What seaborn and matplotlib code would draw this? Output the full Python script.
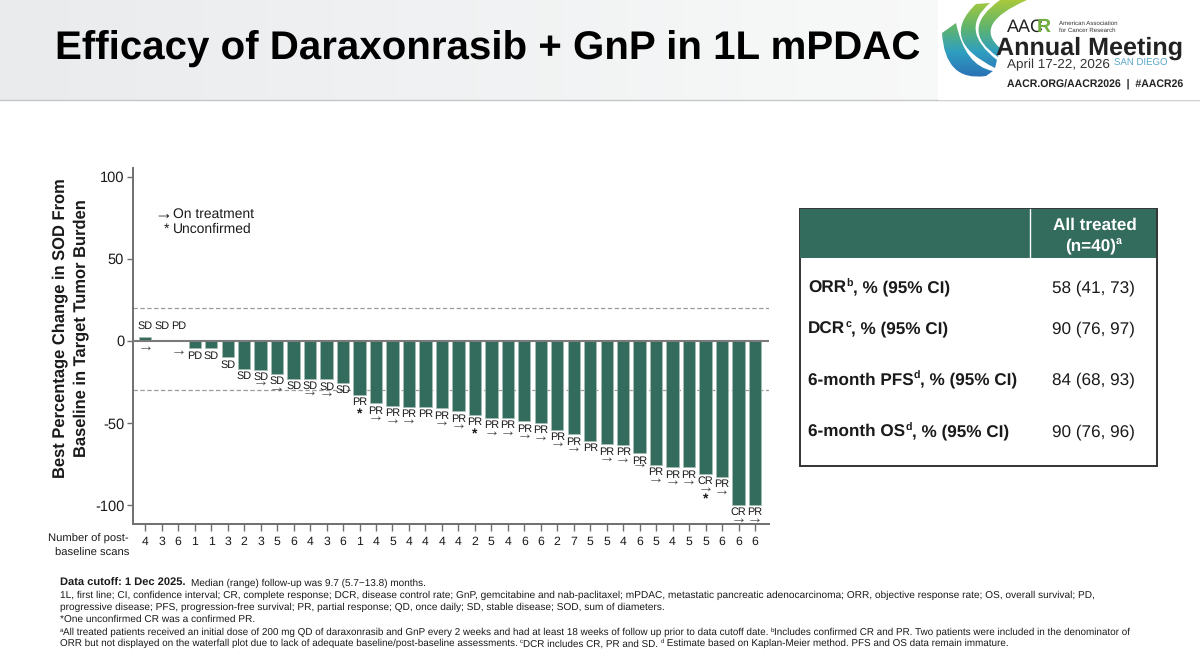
import numpy as np
import pandas as pd
import matplotlib
matplotlib.use('Agg')
import matplotlib.pyplot as plt
import seaborn as sns
from matplotlib.patches import Rectangle, PathPatch
from matplotlib.path import Path
from matplotlib.colors import LinearSegmentedColormap

change = [2.6, 0, 0, -4.5, -4.5, -10, -17, -17.5, -20, -23, -23, -23.5, -25.5,
          -33, -38, -39.5, -40, -40, -41, -43, -45, -47, -47, -49, -50, -54, -57,
          -61, -63, -63.5, -68.5, -75.5, -77, -77, -81, -83, -100, -100]
response = ['SD', 'SD', 'PD', 'PD', 'SD', 'SD', 'SD', 'SD', 'SD', 'SD', 'SD', 'SD', 'SD',
            'PR', 'PR', 'PR', 'PR', 'PR', 'PR', 'PR', 'PR', 'PR', 'PR', 'PR', 'PR', 'PR', 'PR',
            'PR', 'PR', 'PR', 'PR', 'PR', 'PR', 'PR', 'CR', 'PR', 'CR', 'PR']
scans = [4, 3, 6, 1, 1, 3, 2, 3, 5, 6, 4, 3, 6, 1, 4, 5, 4, 4, 4, 4, 2, 5, 4, 6, 6, 2, 7,
         5, 5, 4, 6, 5, 4, 5, 5, 6, 6, 6]
on_treatment = [1, 0, 1, 0, 0, 0, 0, 1, 1, 0, 1, 1, 0,
                0, 1, 1, 1, 0, 1, 1, 0, 1, 1, 1, 1, 1, 1,
                0, 1, 1, 1, 1, 1, 1, 1, 1, 1, 1]
unconfirmed = [13, 20, 34]

table_rows = ['ORR', 'DCR', '6-month PFS', '6-month OS']
table_sup = ['b', 'c', 'd', 'd']
table_vals = ['58 (41, 73)', '90 (76, 97)', '84 (68, 93)', '90 (76, 96)']

GREEN = '#336b5c'
DARK = '#1a1a1a'
GREY = '#6f6f6f'

sns.set_theme(style='white')
plt.rcParams['font.family'] = ['Liberation Sans', 'DejaVu Sans']
plt.rcParams['text.hinting'] = 'none'

W, H = 1200, 664
fig = plt.figure(figsize=(W / 100, H / 100), dpi=100, facecolor='white')

# page layer in pixel coordinates
bg = fig.add_axes([0, 0, 1, 1], zorder=0)
bg.axis('off')

grad = np.linspace(0, 1, 256).reshape(1, -1)
grey_cmap = LinearSegmentedColormap.from_list('hdr', ['#e9ebed', '#eff1f2', '#f6f7f7', '#fbfbfb'])
bg.imshow(grad, extent=(0, W, 100, 0), aspect='auto', cmap=grey_cmap, zorder=0)
bg.plot([0, W], [100, 100], color='#c4c6c8', lw=1, zorder=1)
bg.text(55, 49, 'Efficacy of Daraxonrasib + GnP in 1L mPDAC', fontsize=29, fontweight='bold',
        color='black', va='center', ha='left')

# logo
bg.add_patch(Rectangle((938, 0), 262, 99, color='white', zorder=1))
swoosh_cmap = LinearSegmentedColormap.from_list('sw', ['#a8c93c', '#62b56a', '#2f9fc0', '#2b6fb5'])


def swoosh(pts):
    codes = [Path.MOVETO, Path.CURVE3, Path.CURVE3, Path.LINETO, Path.CURVE3, Path.CURVE3, Path.CLOSEPOLY]
    patch = PathPatch(Path(pts + [pts[0]], codes), fc='none', ec='none', zorder=2)
    bg.add_patch(patch)
    im = bg.imshow(np.linspace(0, 1, 128).reshape(-1, 1), extent=(940, 1040, 78, 0), aspect='auto',
                   cmap=swoosh_cmap, zorder=2)
    im.set_clip_path(patch)


swoosh([(942, 33), (945, 82), (986, 76), (993, 71), (965, 66), (956, 23)])
swoosh([(976, 4), (938, 40), (995, 68), (997, 60), (958, 30), (990, 3)])
swoosh([(1000, 0), (958, 30), (998, 57), (1000, 48), (972, 24), (1027, 0)])

bg.text(1007, 27, 'AAC', fontsize=13, color='#222222', va='center', ha='left', zorder=3)
bg.text(1037, 27, 'R', fontsize=14, color='#6fae3f', fontweight='bold', va='center', ha='left', zorder=3)
bg.text(1059, 23, 'American Association', fontsize=4.4, color='#333333', va='center', zorder=3)
bg.text(1059, 30.5, 'for Cancer Research', fontsize=4.4, color='#333333', va='center', zorder=3)
bg.text(996, 48, 'Annual Meeting', fontsize=18.1, fontweight='bold', color='#222222', va='center', zorder=3)
bg.text(1007, 65, 'April 17-22, 2026', fontsize=9.7, color='#333333', va='center', zorder=3)
bg.text(1114, 63, 'SAN DIEGO', fontsize=6.9, color='#5aa7c9', va='center', zorder=3)
bg.text(1007, 85, 'AACR.ORG/AACR2026  |  #AACR26', fontsize=7.6, fontweight='bold', color='#222222',
        va='center', zorder=3)


def runs(x, y, parts, size, color=DARK):
    """write text pieces one after the other, (text, bold, superscript)"""
    rend = fig.canvas.get_renderer()
    for txt, bold, sup in parts:
        fsize = size * (0.62 if sup else 1)
        weight = 'bold' if bold else 'normal'
        t = bg.text(x, y - (size * 0.42 if sup else 0), txt, fontsize=fsize, fontweight=weight,
                    color=color, va='baseline', ha='left', zorder=5)
        # a dot on the end so trailing spaces count in the width
        probe = bg.text(0, 0, txt + '.', fontsize=fsize, fontweight=weight)
        dot = bg.text(0, 0, '.', fontsize=fsize, fontweight=weight)
        x += probe.get_window_extent(rend).width - dot.get_window_extent(rend).width
        probe.remove()
        dot.remove()
    return x


# results table
bg.add_patch(Rectangle((799.5, 208.5), 357, 257, fc='white', ec='#333333', lw=1.4, zorder=2))
bg.add_patch(Rectangle((800, 209), 356, 49, fc=GREEN, ec='none', zorder=3))
bg.plot([1030, 1030], [209, 258], color='white', lw=1, zorder=4)
bg.text(1095, 225, 'All treated', fontsize=12.3, fontweight='bold', color='white', ha='center', va='center', zorder=5)
runs(1065, 250.5, [('(n=40)', True, False), ('a', True, True)], 12.3, color='white')
row_y = [292.5, 333.5, 384.5, 436]
for name, sup, val, y in zip(table_rows, table_sup, table_vals, row_y):
    runs(808, y, [(name, True, False), (sup, True, True), (', % (95% CI)', True, False)], 12.3)
    bg.text(1052, y, val, fontsize=12.3, color=DARK, ha='left', va='baseline', zorder=5)

# footnotes
fs = 7.28
fs2 = 7.1
x0 = 59.5
runs(x0, 586, [('Data cutoff: 1 Dec 2025.', True, False)], 8.05)
bg.text(190.7, 586, 'Median (range) follow-up was 9.7 (5.7\u221213.8) months.', fontsize=7.21, color=DARK, zorder=5)
bg.text(x0, 598, '1L, first line; CI, confidence interval; CR, complete response; DCR, disease control rate; GnP, '
        'gemcitabine and nab-paclitaxel; mPDAC, metastatic pancreatic adenocarcinoma; ORR, objective response rate; '
        'OS, overall survival; PD,', fontsize=fs, color=DARK, zorder=5)
bg.text(x0, 610.3, 'progressive disease; PFS, progression-free survival; PR, partial response; QD, once daily; SD, '
        'stable disease; SOD, sum of diameters.', fontsize=fs, color=DARK, zorder=5)
bg.text(x0, 622.3, '*One unconfirmed CR was a confirmed PR.', fontsize=fs, color=DARK, zorder=5)
runs(x0, 634.7, [('a', False, True),
                 ('All treated patients received an initial dose of 200 mg QD of daraxonrasib and GnP every 2 weeks '
                  'and had at least 18 weeks of follow up prior to data cutoff date. ', False, False),
                 ('b', False, True),
                 ('Includes confirmed CR and PR. Two patients were included in the denominator of', False, False)], fs2)
runs(x0, 646.3, [('ORR but not displayed on the waterfall plot due to lack of adequate baseline/post-baseline '
                  'assessments. ', False, False),
                 ('c', False, True), ('DCR includes CR, PR and SD. ', False, False), ('d', False, True),
                 (' Estimate based on Kaplan-Meier method. PFS and OS data remain immature.', False, False)], fs2)

bg.set_xlim(0, W)
bg.set_ylim(H, 0)

# waterfall
left, right, top, bottom = 132.5, 769, 168, 524
ax = fig.add_axes([left / W, 1 - bottom / H, (right - left) / W, (bottom - top) / H], zorder=2)
ax.patch.set_alpha(0)

df = pd.DataFrame({'patient': np.arange(len(change)), 'change': change})
sns.barplot(data=df, x='patient', y='change', color=GREEN, saturation=1, width=0.75, ax=ax,
            edgecolor='#a9bdb7', linewidth=0.5, zorder=3)

ax.set_xlim(-0.777, 37.85)
ax.set_ylim(-111.6, 105.4)
ax.axhline(0, color='#7a7a7a', lw=1.5, zorder=4)
ax.axhline(20, color='#9a9a9a', lw=0.9, ls=(0, (3.5, 2)), zorder=1)
ax.axhline(-30, color='#9a9a9a', lw=0.9, ls=(0, (3.5, 2)), zorder=1)

sns.despine(ax=ax)
for side in ['left', 'bottom']:
    ax.spines[side].set_color(GREY)
    ax.spines[side].set_linewidth(1.4)

ax.set_yticks([100, 50, 0, -50, -100])
ax.set_yticklabels(['100', '50', '0', '-50', '-100'], fontsize=10.5, color=DARK)
ax.set_xticks(range(len(scans)))
ax.set_xticklabels(scans, fontsize=8.8, color=DARK)
ax.tick_params(axis='y', length=4, width=1, color=GREY, pad=2, left=True)
ax.tick_params(axis='x', length=5, width=1, color=GREY, pad=3.5, bottom=True)
ax.set_xlabel('')
ax.set_ylabel('')

# response labels hang below the bar end, arrows and stars below that
label_off = -5.4
arrow_gap = {2: 1.3, 7: 3.3, 30: 2.1}
for i, (v, r) in enumerate(zip(change, response)):
    end = min(v, 0)
    if i < 3:
        ax.annotate(r, (i, 0), xytext=(0, 10.6), textcoords='offset points', ha='center', va='center',
                    fontsize=7.8, color=DARK, zorder=6)
    else:
        ax.annotate(r, (i, v), xytext=(0, label_off), textcoords='offset points', ha='center', va='center',
                    fontsize=7.8, color=DARK, zorder=6)
    if on_treatment[i]:
        y_off = label_off - arrow_gap.get(i, 4.3)
        if i == 0:
            y_off = label_off + 1
        ax.annotate('\u2192', (i, end), xytext=(0, y_off), textcoords='offset points', ha='center',
                    va='center', fontsize=11.5, color='#4a4a4a', zorder=6)
for i in unconfirmed:
    star_off = -18.5 if i == 34 else -14.5
    ax.annotate('*', (i, change[i]), xytext=(0, star_off), textcoords='offset points', ha='center',
                va='center', fontsize=10, fontweight='bold', color=DARK, zorder=6)

bg.text(163.5, 214.5, '\u2192', fontsize=13, color=DARK, ha='center', va='center', zorder=5)
bg.text(173, 214.5, 'On treatment', fontsize=10, color=DARK, va='center', zorder=5)
bg.text(166, 229.5, '*', fontsize=10, color=DARK, ha='center', va='center', zorder=5)
bg.text(173, 229.5, 'Unconfirmed', fontsize=10, color=DARK, va='center', zorder=5)

bg.text(60, 328, 'Best Percentage Change in SOD From', fontsize=11.9, fontweight='bold', color=DARK,
        rotation=90, ha='center', va='center', zorder=5)
bg.text(81, 328, 'Baseline in Target Tumor Burden', fontsize=11.9, fontweight='bold', color=DARK,
        rotation=90, ha='center', va='center', zorder=5)
bg.text(129, 539, 'Number of post-', fontsize=8.1, color=DARK, ha='right', va='center', zorder=5)
bg.text(129, 553, 'baseline scans', fontsize=8.1, color=DARK, ha='right', va='center', zorder=5)

fig.savefig('out.png', dpi=100)
